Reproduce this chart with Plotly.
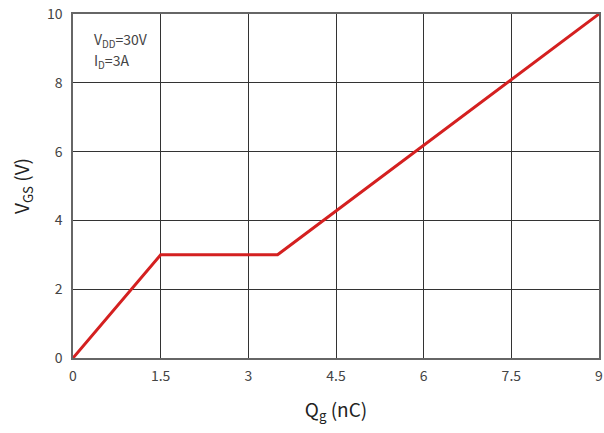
import plotly.graph_objects as go

qg = [0, 1.5, 3.5, 9]
vgs = [0, 3, 3, 10]
x_ticks = [0, 1.5, 3, 4.5, 6, 7.5, 9]
x_labels = ["0", "1.5", "3", "4.5", "6", "7.5", "9"]
y_ticks = [0, 2, 4, 6, 8, 10]

FONT = "Noto Sans CJK SC"
GRID = "#333333"

fig = go.Figure()
fig.add_trace(go.Scatter(x=qg, y=vgs, mode="lines", cliponaxis=False,
                         line=dict(color="#d42020", width=3), showlegend=False))

fig.update_layout(
    width=604, height=433,
    margin=dict(l=73, r=5, t=14, b=75),
    paper_bgcolor="white", plot_bgcolor="white",
    font=dict(family=FONT, color="#333333", size=14),
    xaxis=dict(range=[0, 9], tickvals=x_ticks, ticktext=x_labels, automargin=False,
               showgrid=True, gridcolor=GRID, gridwidth=1,
               showline=True, linecolor="#666666", linewidth=1.5, mirror=True,
               zeroline=False, ticks="", ticklabelstandoff=4, ticklabeloverflow="allow",
               tickfont=dict(size=14, color="#444444"),
               title=dict(text="Q<sub>g</sub> (nC)", font=dict(size=19, color="#222222"), standoff=20)),
    yaxis=dict(range=[0, 10], tickvals=y_ticks, automargin=False,
               showgrid=True, gridcolor=GRID, gridwidth=1,
               showline=True, linecolor="#666666", linewidth=1.5, mirror=True,
               zeroline=False, ticks="", ticklabelstandoff=6, ticklabeloverflow="allow",
               tickfont=dict(size=14, color="#444444"),
               title=dict(text="V<sub>GS</sub> (V)", font=dict(size=19, color="#222222"), standoff=12)),
)

fig.add_annotation(x=0.036, y=0.924, xref="paper", yref="paper", xanchor="left", yanchor="middle",
                   text="V<sub>DD</sub>=30V", showarrow=False, align="left",
                   font=dict(family=FONT, size=14, color="#444444"))
fig.add_annotation(x=0.036, y=0.863, xref="paper", yref="paper", xanchor="left", yanchor="middle",
                   text="I<sub>D</sub>=3A", showarrow=False, align="left",
                   font=dict(family=FONT, size=14, color="#444444"))

fig.write_html("out.html", config={"displayModeBar": False},
               post_script="document.body.style.margin='0';document.body.style.overflow='hidden';")
